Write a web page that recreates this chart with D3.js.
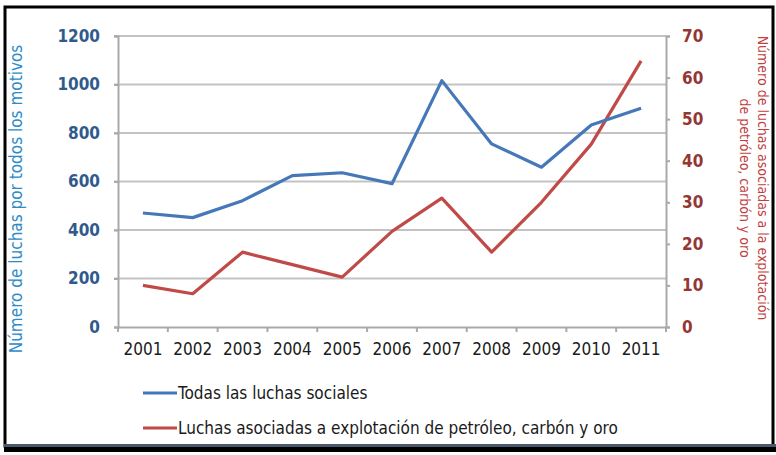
<!DOCTYPE html>
<html>
<head>
<meta charset="utf-8">
<script src="https://cdn.jsdelivr.net/npm/d3@7"></script>
<style>
  html, body { margin: 0; padding: 0; background: #fff; }
  svg { display: block; }
  text { font-family: "DejaVu Sans Condensed", "Liberation Sans", sans-serif; }
</style>
</head>
<body>
<svg id="chart" width="776" height="455"></svg>
<script>
// Social struggles in Colombia, 2001–2011
const years = ["2001", "2002", "2003", "2004", "2005", "2006", "2007", "2008", "2009", "2010", "2011"];
const allStruggles = [470, 451, 521, 624, 636, 591, 1016, 755, 659, 833, 902];
const extractionStruggles = [10, 8, 18, 15, 12, 23, 31, 18, 30, 44, 64];
const leftTicks = [0, 200, 400, 600, 800, 1000, 1200];
const rightTicks = [0, 10, 20, 30, 40, 50, 60, 70];
const seriesNames = [
  "Todas las luchas sociales",
  "Luchas asociadas a explotación de petróleo, carbón y oro"
];
const leftTitle = "Número de luchas por todos los motivos";
const rightTitle = ["Número de luchas asociadas a la explotación", "de petróleo, carbón y oro"];

const svg = d3.select("#chart");
const plot = { left: 118, right: 666, top: 36, bottom: 327 };

const x = d3.scaleBand().domain(years).range([plot.left, plot.right]);
const yL = d3.scaleLinear().domain([0, 1200]).range([plot.bottom, plot.top]);
const yR = d3.scaleLinear().domain([0, 70]).range([plot.bottom, plot.top]);
const cx = d => x(d) + x.bandwidth() / 2;

const gridColor = "#c3c3c3";
const axisColor = "#a9a9a9";
const blue = "#4578b8";
const red = "#bf4a47";

// horizontal gridlines from the left axis ticks
svg.append("g")
  .selectAll("line")
  .data(leftTicks.filter(t => t > 0))
  .join("line")
  .attr("x1", plot.left - 4).attr("x2", plot.right)
  .attr("y1", d => yL(d)).attr("y2", d => yL(d))
  .attr("stroke", gridColor).attr("stroke-width", 2);

// left axis
const gL = svg.append("g")
  .attr("transform", `translate(${plot.left},0)`)
  .call(d3.axisLeft(yL).tickValues(leftTicks).tickFormat(d3.format("d")).tickSize(4).tickPadding(14));
gL.select(".domain").attr("stroke", axisColor).attr("stroke-width", 2);
gL.selectAll(".tick line").attr("stroke", axisColor).attr("stroke-width", 2);
gL.selectAll(".tick text")
  .attr("fill", "#2f5a8c").attr("font-size", 17).attr("font-weight", "bold");

// right axis
const gR = svg.append("g")
  .attr("transform", `translate(${plot.right},0)`)
  .call(d3.axisRight(yR).tickValues(rightTicks).tickFormat(d3.format("d")).tickSize(4).tickPadding(12));
gR.select(".domain").attr("stroke", axisColor).attr("stroke-width", 2);
gR.selectAll(".tick line").attr("stroke", axisColor).attr("stroke-width", 2);
gR.selectAll(".tick text")
  .attr("fill", "#943634").attr("font-size", 17).attr("font-weight", "bold");

// bottom axis: ticks between categories
const gX = svg.append("g")
  .attr("transform", `translate(0,${plot.bottom})`)
  .call(d3.axisBottom(x).tickSize(0).tickPadding(16));
gX.select(".domain").attr("stroke", axisColor).attr("stroke-width", 2);
gX.selectAll(".tick text").attr("fill", "#1a1a1a").attr("font-size", 17);
gX.selectAll(".sep")
  .data(years.concat([null]))
  .join("line")
  .attr("class", "sep")
  .attr("x1", (d, i) => i < years.length ? x(d) : plot.right)
  .attr("x2", (d, i) => i < years.length ? x(d) : plot.right)
  .attr("y1", 0).attr("y2", 5)
  .attr("stroke", axisColor).attr("stroke-width", 2);

// series lines
const lineL = d3.line().x((d, i) => cx(years[i])).y(d => yL(d));
const lineR = d3.line().x((d, i) => cx(years[i])).y(d => yR(d));

svg.append("path")
  .datum(extractionStruggles)
  .attr("d", lineR)
  .attr("fill", "none").attr("stroke", red).attr("stroke-width", 3.2)
  .attr("stroke-linejoin", "round");

svg.append("path")
  .datum(allStruggles)
  .attr("d", lineL)
  .attr("fill", "none").attr("stroke", blue).attr("stroke-width", 3.2)
  .attr("stroke-linejoin", "round");

// axis titles
svg.append("text")
  .attr("transform", `translate(22,199) rotate(-90)`)
  .attr("text-anchor", "middle")
  .attr("fill", "#2e8bc6").attr("font-size", 17)
  .text(leftTitle);

const rt = svg.append("text")
  .attr("transform", `translate(752,178) rotate(90)`)
  .attr("text-anchor", "middle")
  .attr("fill", "#c0413e").attr("font-size", 14);
// first line is the outer one; the second sits further inside
rt.append("tspan").attr("x", 0).attr("dy", -6).text(rightTitle[0]);
rt.append("tspan").attr("x", 0).attr("dy", 18).text(rightTitle[1]);

// legend
const legend = svg.append("g");
[[blue, seriesNames[0], 393], [red, seriesNames[1], 428]].forEach(([c, label, yy]) => {
  legend.append("line")
    .attr("x1", 143).attr("x2", 177).attr("y1", yy).attr("y2", yy)
    .attr("stroke", c).attr("stroke-width", 3.2);
  legend.append("text")
    .attr("x", 178).attr("y", yy + 6)
    .attr("fill", "#1a1a1a").attr("font-size", 17)
    .text(label);
});

// outer frame
svg.append("rect")
  .attr("x", 5).attr("y", 7).attr("width", 768).attr("height", 439)
  .attr("fill", "none").attr("stroke", "#000").attr("stroke-width", 3);
svg.append("rect")
  .attr("x", 4).attr("y", 444).attr("width", 772).attr("height", 3)
  .attr("fill", "#4a5a6e");
svg.append("rect")
  .attr("x", 4).attr("y", 447).attr("width", 772).attr("height", 5)
  .attr("fill", "#000");
</script>
</body>
</html>
